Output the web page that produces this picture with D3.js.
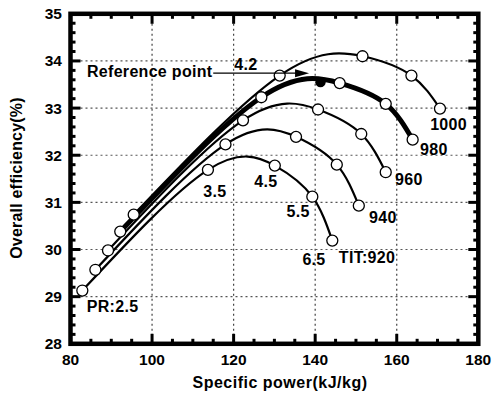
<!DOCTYPE html>
<html><head><meta charset="utf-8">
<script src="https://cdn.jsdelivr.net/npm/d3@7"></script>
<style>
body{margin:0;background:#fff;}
text{font-family:"Liberation Sans",Arial,sans-serif;font-weight:bold;}
</style></head>
<body><svg id="c" width="493" height="397"></svg>
<script>
// ---- data ----
const prLevels = [2.5, 3.5, 4.5, 5.5, 6.5];
const titLevels = [920, 940, 960, 980, 1000];
const power920 = [82.9, 113.7, 130.1, 139.3, 144.2];
const eff920   = [29.13, 31.69, 31.78, 31.12, 30.19];
const power940 = [86.1, 118.0, 135.3, 145.3, 150.7];
const eff940   = [29.57, 32.23, 32.39, 31.80, 30.93];
const power960 = [89.2, 122.3, 140.7, 151.3, 157.3];
const eff960   = [29.98, 32.74, 32.97, 32.45, 31.64];
const power980 = [92.2, 126.8, 146.0, 157.3, 163.9];
const eff980   = [30.38, 33.23, 33.53, 33.09, 32.33];
const power1000 = [95.5, 131.3, 151.6, 163.6, 170.6];
const eff1000   = [30.74, 33.69, 34.10, 33.69, 32.99];
const refPoint = {pr: 4.2, power: 141.3, eff: 33.55};
const xTicks = [80, 100, 120, 140, 160, 180];
const yTicks = [28, 29, 30, 31, 32, 33, 34, 35];

const series = [
  {tit: 920, p: power920, e: eff920},
  {tit: 940, p: power940, e: eff940},
  {tit: 960, p: power960, e: eff960},
  {tit: 980, p: power980, e: eff980, thick: true},
  {tit: 1000, p: power1000, e: eff1000}
];

// ---- layout ----
const svg = d3.select("#c");
const L = 70.5, R = 478.3, T = 13.8, B = 343.8;
const x = d3.scaleLinear().domain([80, 180]).range([L, R]);
const y = d3.scaleLinear().domain([28, 35]).range([B, T]);

// grid
const g = svg.append("g");
g.selectAll(".gx").data(xTicks.slice(1, -1)).enter().append("line")
  .attr("x1", d => x(d)).attr("x2", d => x(d)).attr("y1", T).attr("y2", B)
  .attr("stroke", "#444").attr("stroke-width", 1.2).attr("stroke-dasharray", "2,3");
g.selectAll(".gy").data(yTicks.slice(1, -1)).enter().append("line")
  .attr("y1", d => y(d)).attr("y2", d => y(d)).attr("x1", L).attr("x2", R)
  .attr("stroke", "#555").attr("stroke-width", 1.2).attr("stroke-dasharray", "2,3");

// curves
const line = d3.line().x(d => x(d[0])).y(d => y(d[1])).curve(d3.curveNatural);
series.forEach(s => {
  const pts = s.p.map((v, i) => [v, s.e[i]]);
  svg.append("path").attr("d", line(pts)).attr("fill", "none")
    .attr("stroke", "#000").attr("stroke-width", s.thick ? 5 : 2.2);
});
series.forEach(s => {
  svg.selectAll(null).data(s.p.map((v, i) => [v, s.e[i]])).enter().append("circle")
    .attr("cx", d => x(d[0])).attr("cy", d => y(d[1])).attr("r", 5.5)
    .attr("fill", "#fff").attr("stroke", "#000").attr("stroke-width", 1.3);
});
svg.append("circle").attr("cx", x(refPoint.power)).attr("cy", y(refPoint.eff)).attr("r", 5.2).attr("fill", "#000");

// axes frame and ticks
const ax = svg.append("g");
d3.range(85, 180, 5).forEach(v => {
  const len = v % 20 === 0 ? 10 : 5;
  ax.append("line").attr("x1", x(v)).attr("x2", x(v)).attr("y1", B).attr("y2", B - len).attr("stroke", "#000").attr("stroke-width", 3);
  ax.append("line").attr("x1", x(v)).attr("x2", x(v)).attr("y1", T).attr("y2", T + len).attr("stroke", "#000").attr("stroke-width", 3);
});
d3.range(1, 35).forEach(k => {
  const v = 28 + k * 0.2;
  const len = (k % 5 === 0) ? 10 : 5;
  ax.append("line").attr("y1", y(v)).attr("y2", y(v)).attr("x1", L).attr("x2", L + len).attr("stroke", "#000").attr("stroke-width", 3);
  ax.append("line").attr("y1", y(v)).attr("y2", y(v)).attr("x1", R).attr("x2", R - len).attr("stroke", "#000").attr("stroke-width", 3);
});
ax.append("rect").attr("x", L).attr("y", T).attr("width", R - L).attr("height", B - T)
  .attr("fill", "none").attr("stroke", "#000").attr("stroke-width", 4.5);

// tick labels
svg.selectAll(".xl").data(xTicks).enter().append("text")
  .attr("x", d => x(d)).attr("y", 365).attr("text-anchor", "middle").attr("font-size", 15.5).text(d => d);
svg.selectAll(".yl").data(yTicks).enter().append("text")
  .attr("x", 62).attr("y", d => y(d) + 5.5).attr("text-anchor", "end").attr("font-size", 15.5).text(d => d);

// axis titles
svg.append("text").attr("x", 280).attr("y", 388).attr("text-anchor", "middle").attr("font-size", 16)
  .attr("letter-spacing", 0.5).text("Specific power(kJ/kg)");
svg.append("text").attr("transform", "translate(22,178) rotate(-90)").attr("text-anchor", "middle").attr("font-size", 16)
  .attr("letter-spacing", 0.2).text("Overall efficiency(%)");

// annotations
const labels = [
  {t: "PR:2.5", v: 84.0, e: 28.67, a: "start"},
  {t: "3.5", v: 115.4, e: 31.11, a: "middle"},
  {t: "4.5", v: 127.9, e: 31.33, a: "middle"},
  {t: "5.5", v: 135.8, e: 30.69, a: "middle"},
  {t: "6.5", v: 139.7, e: 29.67, a: "middle"},
  {t: "4.2", v: 123.0, e: 33.81, a: "middle"},
  {t: "TIT:920", v: 145.8, e: 29.71, a: "start"},
  {t: "940", v: 153.2, e: 30.56, a: "start"},
  {t: "960", v: 159.6, e: 31.37, a: "start"},
  {t: "980", v: 165.7, e: 32.0, a: "start"},
  {t: "1000", v: 168.2, e: 32.53, a: "start"},
  {t: "Reference point", v: 114.8, e: 33.66, a: "end"}
];
svg.selectAll(".lab").data(labels).enter().append("text")
  .attr("x", d => x(d.v)).attr("y", d => y(d.e)).attr("text-anchor", d => d.a)
  .attr("font-size", 16).attr("letter-spacing", 0.3).text(d => d.t);

// arrow
const arrowY = y(33.74);
svg.append("line").attr("x1", x(115.0)).attr("x2", x(135.5)).attr("y1", arrowY).attr("y2", arrowY)
  .attr("stroke", "#000").attr("stroke-width", 1.2);
const tipX = x(138.5);
svg.append("path").attr("d", `M${tipX},${arrowY} L${tipX - 14},${arrowY - 4} L${tipX - 14},${arrowY + 4} Z`).attr("fill", "#000");
</script></body></html>
